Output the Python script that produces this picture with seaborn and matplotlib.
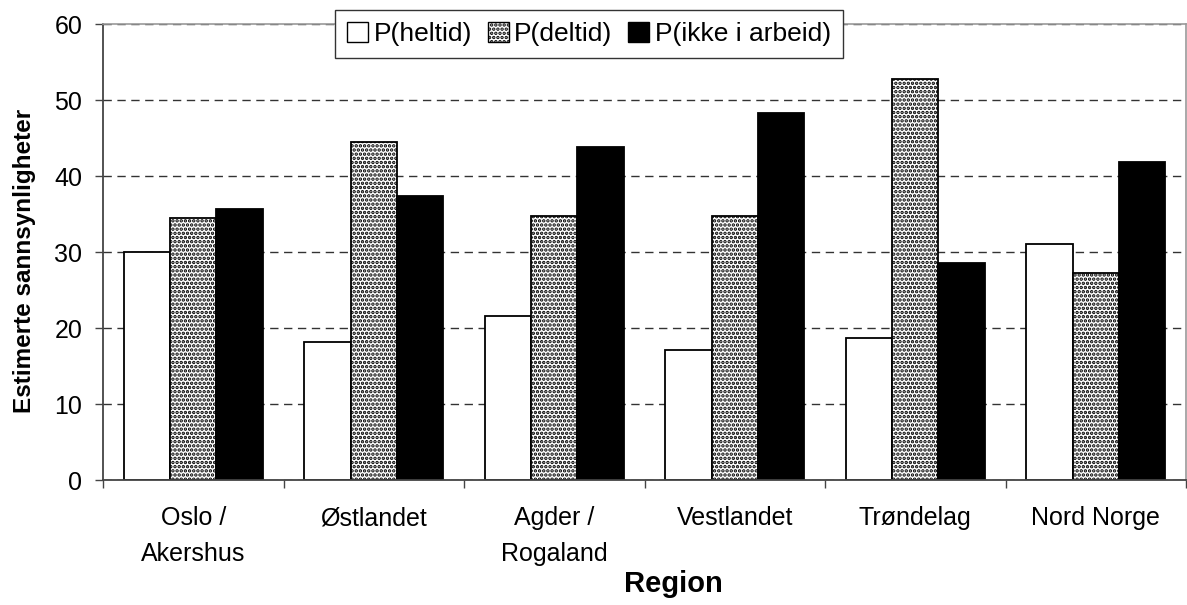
import matplotlib
matplotlib.use("Agg")
import matplotlib.pyplot as plt
import seaborn as sns
import pandas as pd
from matplotlib.ticker import FixedLocator
from matplotlib.patches import Patch

regions = ["Oslo /\nAkershus", "Østlandet", "Agder /\nRogaland", "Vestlandet", "Trøndelag", "Nord Norge"]
series = ["P(heltid)", "P(deltid)", "P(ikke i arbeid)"]
p_heltid = [30.0, 18.1, 21.6, 17.1, 18.7, 31.1]
p_deltid = [34.5, 44.5, 34.8, 34.8, 52.7, 27.2]
p_ikke = [35.6, 37.4, 43.8, 48.3, 28.5, 41.9]
yticks = [0, 10, 20, 30, 40, 50, 60]

df = pd.DataFrame({
    "Region": regions * 3,
    "Serie": [series[0]] * 6 + [series[1]] * 6 + [series[2]] * 6,
    "Verdi": p_heltid + p_deltid + p_ikke,
})

sns.set_theme(style="white")
plt.rcParams["font.family"] = ["Liberation Sans", "DejaVu Sans"]
plt.rcParams["hatch.linewidth"] = 1.7
plt.rcParams["hatch.color"] = "black"
plt.rcParams["text.color"] = "black"
plt.rcParams["axes.labelcolor"] = "black"
plt.rcParams["xtick.color"] = "black"
plt.rcParams["ytick.color"] = "black"

fig = plt.figure(figsize=(11.87, 6.05), dpi=100)
ax = fig.add_axes([103 / 1187, 1 - 480 / 605, 1083 / 1187, 456 / 605])

sns.barplot(data=df, x="Region", y="Verdi", hue="Serie", order=regions,
            hue_order=series, width=0.77, ax=ax, legend=False, zorder=3)

faces = ["white", "white", "black"]
hatches = [None, "....", None]
for cont, fc, h in zip(ax.containers, faces, hatches):
    for bar in cont:
        bar.set_facecolor(fc)
        bar.set_edgecolor("black")
        bar.set_linewidth(1.3)
        if h:
            bar.set_hatch(h)

ax.set_xlim(-0.5, 5.5)
ax.set_ylim(0, 60)
ax.set_yticks(yticks)
ax.yaxis.grid(True, linestyle=(0, (6, 4)), color="#333333", linewidth=1.0, zorder=0)
ax.xaxis.grid(False)
ax.set_axisbelow(True)

for s in ["left", "bottom"]:
    ax.spines[s].set_color("#444444")
    ax.spines[s].set_linewidth(1.3)
for s in ["top", "right"]:
    ax.spines[s].set_color("#999999")
    ax.spines[s].set_linewidth(1.2)
ax.spines["bottom"].set_zorder(5)

ax.tick_params(axis="y", which="major", direction="out", length=6, width=1.0,
               color="#444444", labelcolor="black", labelsize=18, pad=9, left=True)
ax.tick_params(axis="x", which="major", length=0, labelsize=18, labelcolor="black", pad=19)
ax.xaxis.set_minor_locator(FixedLocator([i - 0.5 for i in range(7)]))
ax.tick_params(axis="x", which="minor", direction="out", length=6, width=1.0,
               color="#444444", bottom=True)
for lbl in ax.get_xticklabels():
    lbl.set_linespacing(1.6)

ax.set_ylabel("Estimerte sannsynligheter", fontsize=17.5, fontweight="bold", color="black")
ax.yaxis.set_label_coords(-0.062, 0.481)
ax.set_xlabel("Region", fontsize=21, fontweight="bold", color="black")
ax.xaxis.set_label_coords(0.527, -0.197)

handles = [Patch(facecolor="white", edgecolor="black", linewidth=1.0),
           Patch(facecolor="white", edgecolor="black", linewidth=1.0, hatch="...."),
           Patch(facecolor="black", edgecolor="black", linewidth=1.0)]
leg = ax.legend(handles, series, loc="upper center", bbox_to_anchor=(0.4487, 1.0307),
                ncol=3, fontsize=19, frameon=True, fancybox=False, framealpha=1,
                edgecolor="#333333", handlelength=0.8, handleheight=0.8,
                handletextpad=0.2, columnspacing=0.6, borderpad=0.45,
                borderaxespad=0)
leg.get_frame().set_linewidth(1.0)
for t in leg.get_texts():
    t.set_color("black")
leg.set_zorder(10)

fig.savefig("out.png", dpi=100)
